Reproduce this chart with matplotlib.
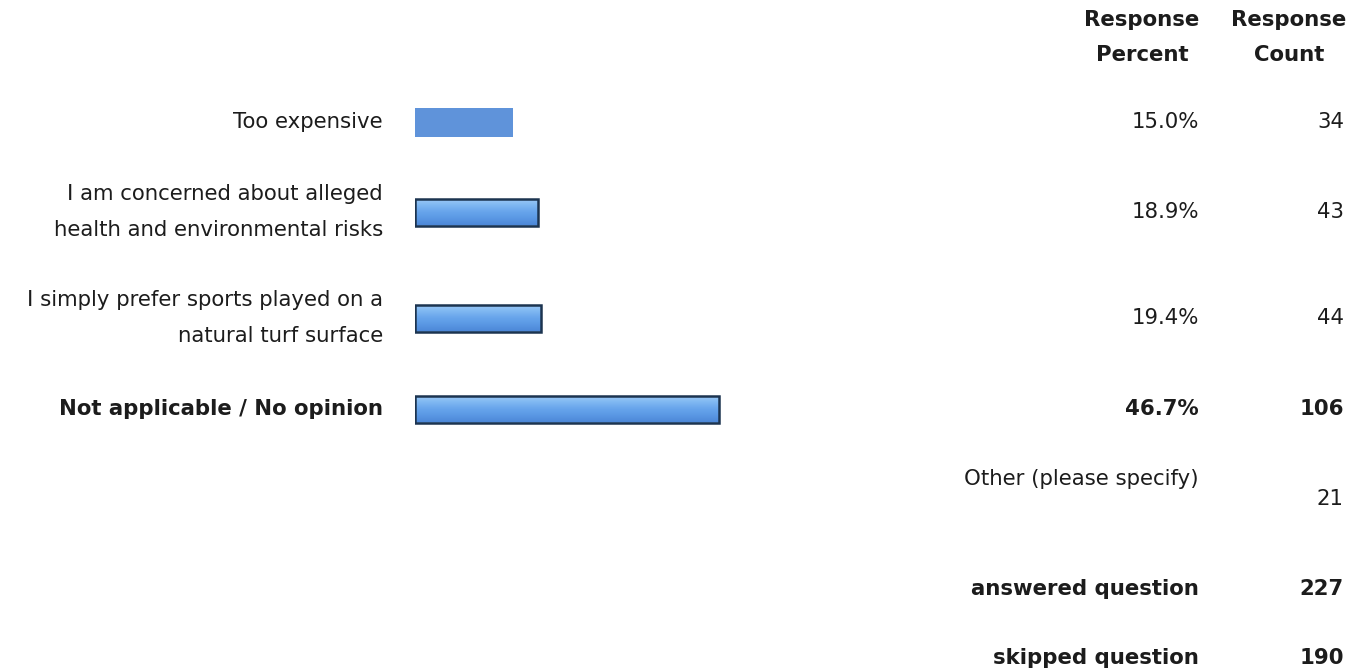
import matplotlib
matplotlib.use("Agg")
import matplotlib.pyplot as plt
import numpy as np
from matplotlib.colors import LinearSegmentedColormap

plt.rcParams['font.family'] = ['DejaVu Sans']

# survey answers
answers = ["Too expensive",
           "I am concerned about alleged\nhealth and environmental risks",
           "I simply prefer sports played on a\nnatural turf surface",
           "Not applicable / No opinion"]
percents = [15.0, 18.9, 19.4, 46.7]
counts = [34, 43, 44, 106]
bold_rows = [False, False, False, True]

other_label = "Other (please specify)"
other_count = 21
summary_labels = ["answered question", "skipped question"]
summary_counts = [227, 190]

W, H = 1361, 671
# layout (pixel rows from top)
row_y = [122, 212, 318, 409]
other_y = (479, 499)
summary_y = [589, 658]
txt = '#1c1c1c'
fs = 15.3

fig = plt.figure(figsize=(W / 100, H / 100), dpi=100)
fig.patch.set_facecolor('white')

# bar axes: x in percent, y in pixels from top
ax = fig.add_axes([415 / W, 0, 651 / W, 1])
ax.set_xlim(0, 100)
ax.set_ylim(H, 0)
ax.axis('off')

grad = LinearSegmentedColormap.from_list(
    'barblue', ['#9fcbf6', '#80b8f2', '#68a5ec', '#5a98e4', '#4d88d8'])

for i, (y, p) in enumerate(zip(row_y, percents)):
    if i == 0:
        ax.barh(y, p, height=29, color='#5f93da', edgecolor='none', align='center')
        continue
    bars = ax.barh(y, p, height=27, color='#66a2e8', edgecolor='none',
                   align='center', zorder=2)
    patch = bars[0]
    bb = patch.get_bbox()
    g = np.linspace(0, 1, 64).reshape(-1, 1)
    im = ax.imshow(g, cmap=grad, aspect='auto', origin='upper',
                   extent=(bb.x0, bb.x1, bb.y1, bb.y0), zorder=2.5)
    im.set_clip_path(patch)
    ax.barh(y, p, height=27, color='none', edgecolor='#1c3450',
            linewidth=1.8, align='center', zorder=3)

ax.set_xlim(0, 100)
ax.set_ylim(H, 0)


def fy(y):
    return 1 - y / H


def fx(x):
    return x / W


# headers
for cx, words in [(1142, ("Response", "Percent")), (1289, ("Response", "Count"))]:
    fig.text(fx(cx), fy(20), words[0], ha='center', va='center', fontsize=fs,
             fontweight='bold', color=txt)
    fig.text(fx(cx), fy(55), words[1], ha='center', va='center', fontsize=fs,
             fontweight='bold', color=txt)

for y, lab, p, c, b in zip(row_y, answers, percents, counts, bold_rows):
    w = 'bold' if b else 'normal'
    fig.text(fx(383), fy(y), lab, ha='right', va='center', fontsize=fs,
             fontweight=w, color=txt, linespacing=2.0, multialignment='right')
    fig.text(fx(1199), fy(y), f"{p:.1f}%", ha='right', va='center', fontsize=fs,
             fontweight=w, color=txt)
    fig.text(fx(1344), fy(y), str(c), ha='right', va='center', fontsize=fs,
             fontweight=w, color=txt)

fig.text(fx(1199), fy(other_y[0]), other_label, ha='right', va='center',
         fontsize=fs, color=txt)
fig.text(fx(1344), fy(other_y[1]), str(other_count), ha='right', va='center',
         fontsize=fs, color=txt)

for y, lab, c in zip(summary_y, summary_labels, summary_counts):
    fig.text(fx(1199), fy(y), lab, ha='right', va='center', fontsize=fs,
             fontweight='bold', color=txt)
    fig.text(fx(1344), fy(y), str(c), ha='right', va='center', fontsize=fs,
             fontweight='bold', color=txt)

fig.savefig("out.png", dpi=100, facecolor='white')
